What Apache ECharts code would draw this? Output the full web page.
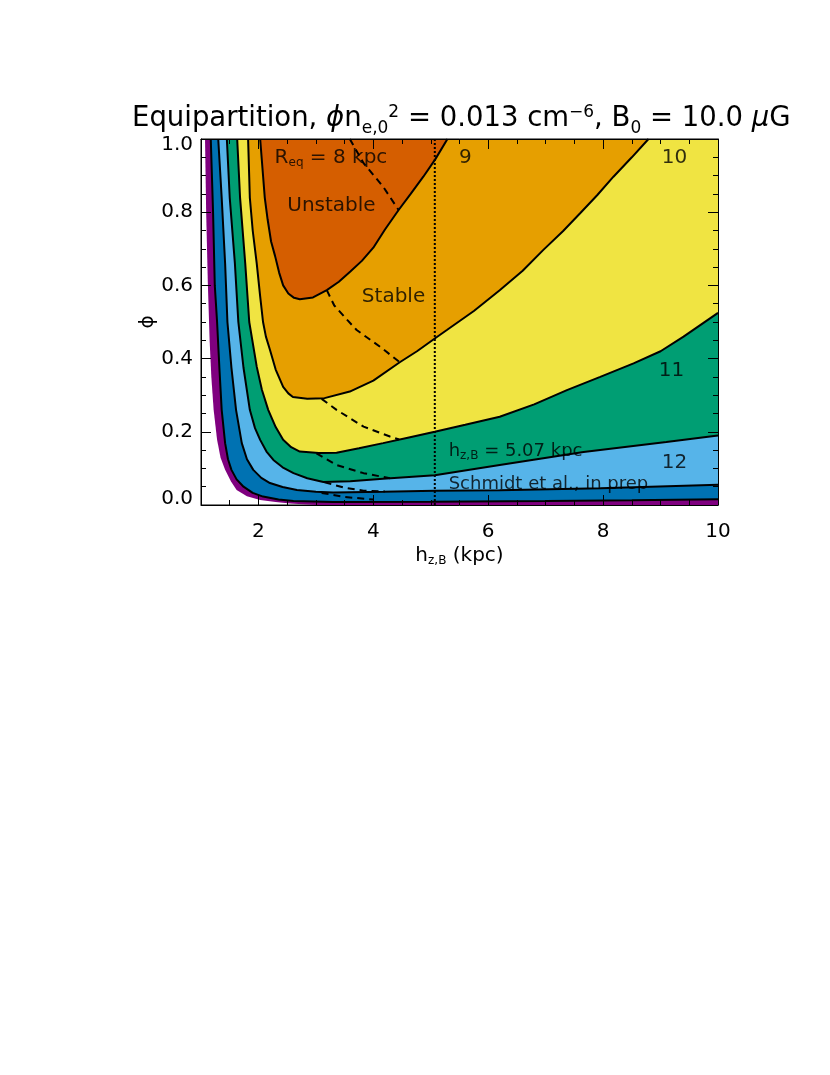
<!DOCTYPE html>
<html><head><meta charset="utf-8">
<script src="https://cdn.jsdelivr.net/npm/echarts@6/dist/echarts.min.js"></script>
<style>html,body{margin:0;padding:0;background:#fff}#c{width:830px;height:1075px}</style>
</head><body><div id="c"></div>
<script>
// ---- data (x = h_z,B in kpc, y = phi) ----
const contour14 = [[1.07,1.0],[1.09,0.8],[1.12,0.6],[1.15,0.45],[1.18,0.35],[1.22,0.26],[1.28,0.178],[1.34,0.13],[1.42,0.096],[1.52,0.065],[1.62,0.041],[1.8,0.024],[2.03,0.014],[2.3,0.008],[2.55,0.004],[3.0,0.0]];
const contour13 = [[1.17,1.0],[1.21,0.8],[1.24,0.6],[1.28,0.5],[1.32,0.375],[1.36,0.26],[1.42,0.169],[1.47,0.125],[1.53,0.096],[1.62,0.07],[1.74,0.05],[1.9,0.033],[2.08,0.023],[2.35,0.015],[2.61,0.011],[3.3,0.008],[5.0,0.009],[7.0,0.011],[8.5,0.013],[10,0.016]];
const contour12 = [[1.30,1.0],[1.36,0.84],[1.42,0.66],[1.46,0.50],[1.53,0.375],[1.61,0.26],[1.71,0.169],[1.8,0.125],[1.91,0.096],[2.05,0.074],[2.2,0.06],[2.42,0.049],[2.67,0.041],[3.0,0.036],[3.3,0.034],[4.17,0.036],[5.07,0.039],[6.2,0.04],[7.95,0.046],[10,0.055]];
const contour11 = [[1.45,1.0],[1.50,0.84],[1.59,0.66],[1.65,0.50],[1.74,0.375],[1.85,0.26],[1.94,0.21],[2.03,0.178],[2.14,0.146],[2.26,0.123],[2.42,0.103],[2.61,0.087],[2.85,0.073],[3.13,0.063],[3.6,0.065],[4.17,0.072],[5.07,0.081],[6.2,0.109],[7.66,0.145],[9.1,0.172],[10,0.19]];
const contour10 = [[1.63,1.0],[1.68,0.84],[1.77,0.66],[1.84,0.50],[1.97,0.378],[2.06,0.315],[2.17,0.26],[2.3,0.213],[2.43,0.178],[2.57,0.158],[2.72,0.146],[3.05,0.142],[3.36,0.143],[3.75,0.155],[4.17,0.169],[4.6,0.184],[5.07,0.2],[5.6,0.219],[6.2,0.241],[6.8,0.275],[7.37,0.314],[7.95,0.35],[8.53,0.387],[9.0,0.42],[9.4,0.46],[10,0.525]];
const contour9 = [[1.82,1.0],[1.85,0.84],[1.9,0.75],[1.97,0.66],[2.03,0.57],[2.08,0.50],[2.13,0.46],[2.2,0.424],[2.3,0.37],[2.43,0.323],[2.52,0.305],[2.6,0.295],[2.85,0.29],[3.15,0.292],[3.59,0.31],[4.0,0.34],[4.46,0.39],[4.76,0.42],[5.07,0.455],[5.28,0.478],[5.75,0.53],[6.2,0.587],[6.6,0.64],[6.96,0.697],[7.3,0.748],[7.6,0.797],[7.9,0.847],[8.18,0.897],[8.5,0.95],[8.79,1.0]];
const contour8 = [[2.03,1.0],[2.07,0.92],[2.11,0.84],[2.16,0.78],[2.22,0.72],[2.29,0.68],[2.36,0.635],[2.43,0.60],[2.52,0.578],[2.62,0.566],[2.72,0.562],[2.95,0.567],[3.19,0.587],[3.4,0.61],[3.6,0.638],[3.8,0.667],[4.0,0.703],[4.2,0.752],[4.44,0.806],[4.65,0.85],[4.87,0.897],[5.08,0.945],[5.29,1.0]];
const dashed1 = [[3.59,1.0],[3.83,0.934],[4.17,0.87],[4.44,0.806]];
const dashed2 = [[3.19,0.587],[3.32,0.545],[3.55,0.505],[3.71,0.478],[4.12,0.432],[4.46,0.39]];
const dashed3 = [[3.1,0.29],[3.36,0.26],[3.83,0.214],[4.29,0.187],[4.45,0.179]];
const dashed4 = [[3.01,0.141],[3.36,0.109],[3.83,0.087],[4.29,0.073]];
const dashed5 = [[3.15,0.062],[3.5,0.047],[3.83,0.039],[4.2,0.037]];
const dashed6 = [[3.1,0.033],[3.5,0.022],[4.0,0.015]];
const hzB = 5.07;
const xTickLabels = [2,4,6,8,10];
const yTickLabels = [0,0.2,0.4,0.6,0.8,1.0];
const annText = ['{a|R}{s|eq}{a| = 8 kpc}','{a|Unstable}','{a|Stable}','{a|9}','{a|10}','{a|11}','{a|12}','{b|h}{t|z,B}{b| = 5.07 kpc}','{c|Schmidt et al., in prep}'];
const annX = [2.29,3.28,4.36,5.61,9.25,9.2,9.25,5.32,5.32];
const annY = [0.948,0.817,0.568,0.948,0.948,0.366,0.115,0.145,0.055];
const annAlign = ['left','center','center','center','center','center','center','left','left'];

// ---- styling ----
const FONT = 'DejaVu Sans';
const fills = ['#7F007F','#0072B2','#56B4E9','#009E73','#F0E442','#E69F00','#D55E00'];
const regions = [contour14, contour13, contour12, contour11, contour10, contour9, contour8];
const lines = [contour13, contour12, contour11, contour10, contour9, contour8];
const dashes = [dashed1, dashed2, dashed3, dashed4, dashed5, dashed6];
const XMIN = 1, XMAX = 10, YMIN = 0, YMAX = 1;

function closeRegion(pts){
  const r = pts.slice();
  let last = r[r.length-1];
  if (last[1] === YMIN && last[0] < XMAX) { r.push([XMAX, YMIN]); last = r[r.length-1]; }
  if (last[0] === XMAX && last[1] < YMAX) r.push([XMAX, YMAX]);
  return r;
}

const series = [];
regions.forEach((pts, i) => {
  const poly = closeRegion(pts);
  series.push({
    type: 'custom', coordinateSystem: 'cartesian2d', xAxisIndex: 0, yAxisIndex: 0,
    silent: true, z: 1 + i, clip: true,
    data: [[poly[0][0], poly[0][1]]],
    renderItem: (params, api) => ({
      type: 'polygon',
      shape: { points: poly.map(p => api.coord(p)) },
      style: { fill: fills[i], stroke: null }
    })
  });
});
lines.forEach(pts => series.push({
  type: 'line', data: pts, showSymbol: false, symbol: 'none', z: 20, silent: true,
  lineStyle: { color: '#000', width: 2 }
}));
dashes.forEach(pts => series.push({
  type: 'line', data: pts, showSymbol: false, symbol: 'none', z: 21, silent: true,
  lineStyle: { color: '#000', width: 2, type: [7,5] }
}));
series.push({
  type: 'line', data: [[hzB, YMIN], [hzB, YMAX]], showSymbol: false, symbol: 'none', z: 22, silent: true,
  lineStyle: { color: '#000', width: 2, type: [2,2] }
});
series.push({
  type: 'scatter', z: 30, silent: true, symbolSize: 1, itemStyle: { color: 'rgba(0,0,0,0)' },
  data: annText.map((t, i) => ({
    value: [annX[i], annY[i]],
    label: { show: true, formatter: t, position: [0, 0], align: annAlign[i], verticalAlign: 'middle',
      rich: {
        a: { fontFamily: FONT, fontSize: 20, color: '#000' },
        s: { fontFamily: FONT, fontSize: 12, color: '#000', verticalAlign: 'bottom', padding: [10,0,0,0] },
        b: { fontFamily: FONT, fontSize: 18, color: '#000' },
        t: { fontFamily: FONT, fontSize: 12, color: '#000', verticalAlign: 'bottom', padding: [8,0,0,0] },
        c: { fontFamily: FONT, fontSize: 18, color: '#000' }
      } }
  }))
});

const axisLineStyle = { show: true, lineStyle: { color: '#000', width: 1 } };
const tickFont = { fontFamily: FONT, fontSize: 20, color: '#000' };
const option = {
  animation: false,
  backgroundColor: '#fff',
  title: {
    left: 127, top: 99,
    text: '{a|Equipartition, }{i|ϕ}{a|n}{sub|e,0}{sup|2}{a| = 0.013 cm}{sup|−6}{a|, B}{sub|0}{a| = 10.0 }{i|μ}{a|G}',
    textStyle: {
      fontWeight: 'normal',
      rich: {
        a: { fontFamily: FONT, fontSize: 27.5, fontWeight: 'normal', color: '#000', lineHeight: 30, verticalAlign: 'middle' },
        i: { fontFamily: FONT, fontSize: 27.5, fontWeight: 'normal', color: '#000', fontStyle: 'italic', lineHeight: 30 },
        sub: { fontFamily: FONT, fontSize: 17, fontWeight: 'normal', color: '#000', verticalAlign: 'bottom', lineHeight: 17, padding: [0,0,-3,0] },
        sup: { fontFamily: FONT, fontSize: 17, fontWeight: 'normal', color: '#000', verticalAlign: 'top', lineHeight: 17 }
      }
    }
  },
  grid: { left: 201, right: 112, top: 139, bottom: 570, show: true, borderColor: '#000', borderWidth: 1, backgroundColor: 'transparent' },
  xAxis: [
    { type: 'value', min: XMIN, max: XMAX, interval: 0.5, position: 'bottom', z: 50,
      axisLine: axisLineStyle, splitLine: { show: false },
      axisTick: { inside: true, length: 5, lineStyle: { color: '#000' } },
      axisLabel: Object.assign({ formatter: v => (xTickLabels.indexOf(v) >= 0 ? String(v) : ''), margin: 17 }, tickFont),
      name: '{a|h}{s|z,B}{a| (kpc)}', nameLocation: 'middle', nameGap: 40,
      nameTextStyle: { rich: {
        a: { fontFamily: FONT, fontSize: 20, color: '#000' },
        s: { fontFamily: FONT, fontSize: 12, color: '#000', verticalAlign: 'bottom', padding: [10,0,0,0] } } } },
    { type: 'value', min: XMIN, max: XMAX, position: 'bottom', z: 50, axisLine: { show: false }, splitLine: { show: false },
      axisTick: { inside: true, length: 10, customValues: xTickLabels, lineStyle: { color: '#000' } },
      axisLabel: { show: false } },
    { type: 'value', min: XMIN, max: XMAX, interval: 0.5, position: 'top', z: 50,
      axisLine: axisLineStyle, splitLine: { show: false },
      axisTick: { inside: true, length: 5, lineStyle: { color: '#000' } }, axisLabel: { show: false } },
    { type: 'value', min: XMIN, max: XMAX, position: 'top', z: 50, axisLine: { show: false }, splitLine: { show: false },
      axisTick: { inside: true, length: 10, customValues: xTickLabels, lineStyle: { color: '#000' } },
      axisLabel: { show: false } }
  ],
  yAxis: [
    { type: 'value', min: YMIN, max: YMAX, interval: 0.2, position: 'left', z: 50,
      axisLine: axisLineStyle, splitLine: { show: false },
      axisTick: { inside: true, length: 10, lineStyle: { color: '#000' } },
      minorTick: { show: true, splitNumber: 4, length: 5, lineStyle: { color: '#000' } },
      axisLabel: {
        formatter: v => (v === YMAX ? '{top|' + v.toFixed(1) + '}' : v === YMIN ? '{bot|' + v.toFixed(1) + '}' : '{n|' + v.toFixed(1) + '}'),
        margin: 8,
        rich: {
          n: tickFont,
          top: Object.assign({ padding: [12,0,0,0] }, tickFont),
          bot: Object.assign({ padding: [0,0,12,0] }, tickFont)
        } },
      name: 'ϕ', nameLocation: 'middle', nameGap: 43, nameRotate: 90, nameMoveOverlap: false,
      nameTextStyle: { fontFamily: FONT, fontSize: 20, color: '#000' } },
    { type: 'value', min: YMIN, max: YMAX, interval: 0.2, position: 'right', z: 50,
      axisLine: axisLineStyle, splitLine: { show: false },
      axisTick: { inside: true, length: 10, lineStyle: { color: '#000' } },
      minorTick: { show: true, splitNumber: 4, length: 5, lineStyle: { color: '#000' } },
      axisLabel: { show: false } }
  ],
  series: series
};
const chart = echarts.init(document.getElementById('c'), null, { renderer: 'canvas' });
chart.setOption(option);
</script></body></html>
